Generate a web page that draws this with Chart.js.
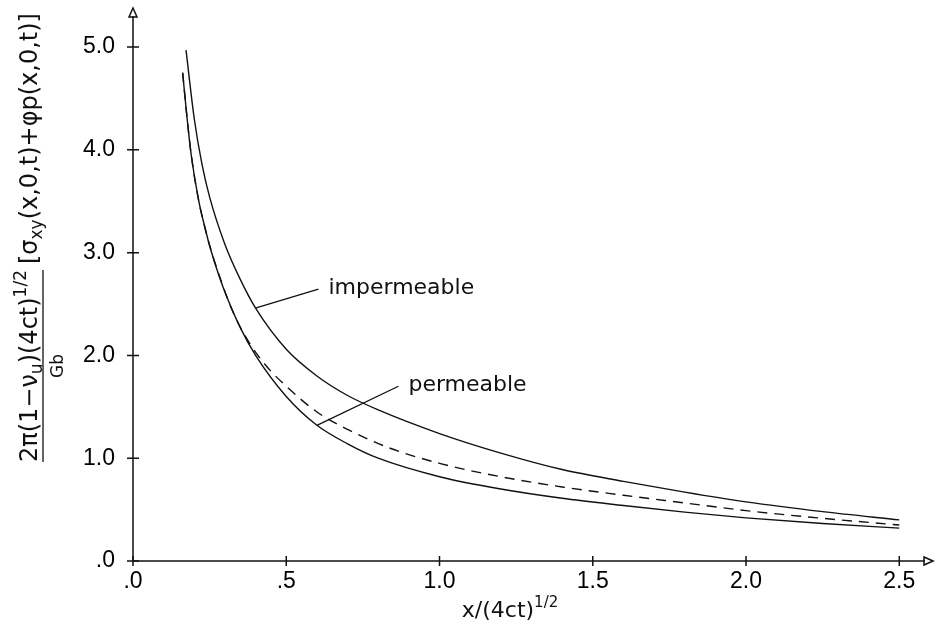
<!DOCTYPE html>
<html>
<head>
<meta charset="utf-8">
<script src="https://cdn.jsdelivr.net/npm/chart.js@4.4.1/dist/chart.umd.min.js"></script>
<style>
  html, body { margin: 0; padding: 0; background: #fff; }
  #wrap { width: 936px; height: 633px; }
</style>
</head>
<body>
<div id="wrap"><canvas id="chart" width="936" height="633"></canvas></div>
<script>
// values
const xImpermeable = [0.173, 0.2, 0.225, 0.25, 0.3, 0.35, 0.4, 0.5, 0.6, 0.7, 0.8, 1.0, 1.2, 1.4, 1.6, 1.8, 2.0, 2.25, 2.5];
const yImpermeable = [4.97, 4.30, 3.86, 3.54, 3.08, 2.74, 2.46, 2.06, 1.80, 1.61, 1.47, 1.24, 1.05, 0.89, 0.775, 0.67, 0.575, 0.48, 0.40];

const xPermeable = [0.162, 0.175, 0.19, 0.214, 0.235, 0.252, 0.28, 0.306, 0.35, 0.4, 0.5, 0.6, 0.7, 0.8, 1.0, 1.2, 1.4, 1.6, 1.8, 2.0, 2.25, 2.5];
const yPermeable = [4.75, 4.35, 3.95, 3.51, 3.24, 3.045, 2.78, 2.57, 2.27, 2.00, 1.60, 1.32, 1.14, 1.00, 0.82, 0.70, 0.61, 0.54, 0.475, 0.42, 0.365, 0.32];

const xDashed = [0.162, 0.175, 0.19, 0.214, 0.235, 0.252, 0.28, 0.328, 0.38, 0.437, 0.5, 0.6, 0.7, 0.839, 1.0, 1.2, 1.4, 1.6, 1.8, 2.0, 2.25, 2.5];
const yDashed = [4.75, 4.35, 3.95, 3.51, 3.24, 3.05, 2.79, 2.41, 2.12, 1.89, 1.70, 1.45, 1.28, 1.097, 0.95, 0.82, 0.72, 0.64, 0.565, 0.49, 0.415, 0.35];

const xTicks = [0, 0.5, 1.0, 1.5, 2.0, 2.5];
const yTicks = [0, 1, 2, 3, 4, 5];

// curve labels: text, point on curve, end of leader line
const labelNames = ["impermeable", "permeable"];
const labelCurveX = [0.399, 0.6];
const labelCurveY = [2.46, 1.32];
const labelLeaderX = [0.605, 0.866];
const labelLeaderY = [2.645, 1.70];

const pts = (xs, ys) => xs.map((x, i) => ({ x: x, y: ys[i] }));
const fmt = (v) => {
  const s = Number(v).toFixed(1);
  return s.startsWith("0") ? s.slice(1) : s;
};

const INK = "#111";

// draws a list of text runs along the baseline, returns total width
const drawRuns = (ctx, runs, x, y) => {
  let cx = x;
  runs.forEach((r) => {
    ctx.font = r.size + "px 'DejaVu Sans'";
    ctx.fillText(r.t, cx, y + (r.dy || 0));
    cx += ctx.measureText(r.t).width;
  });
  return cx - x;
};
const runsWidth = (ctx, runs) => {
  let w = 0;
  runs.forEach((r) => {
    ctx.font = r.size + "px 'DejaVu Sans'";
    w += ctx.measureText(r.t).width;
  });
  return w;
};

const decorations = {
  id: "decorations",
  afterDraw(chart) {
    const ctx = chart.ctx;
    const xs = chart.scales.x, ys = chart.scales.y;
    const x0 = xs.getPixelForValue(0), y0 = ys.getPixelForValue(0);
    const area = chart.chartArea;
    ctx.save();
    ctx.strokeStyle = INK;
    ctx.fillStyle = INK;
    ctx.lineWidth = 1.5;

    // axes with open arrow heads
    ctx.beginPath();
    ctx.moveTo(x0, y0);
    ctx.lineTo(x0, area.top + 8);
    ctx.moveTo(x0, y0);
    ctx.lineTo(area.right - 8, y0);
    ctx.stroke();
    ctx.beginPath();
    ctx.moveTo(x0, area.top);
    ctx.lineTo(x0 - 4, area.top + 9);
    ctx.lineTo(x0 + 4, area.top + 9);
    ctx.closePath();
    ctx.moveTo(area.right, y0);
    ctx.lineTo(area.right - 9, y0 - 4);
    ctx.lineTo(area.right - 9, y0 + 4);
    ctx.closePath();
    ctx.stroke();

    // tick crosses
    ctx.beginPath();
    yTicks.forEach((v) => {
      const p = ys.getPixelForValue(v);
      ctx.moveTo(x0 - 6, p);
      ctx.lineTo(x0 + 6, p);
    });
    xTicks.forEach((v) => {
      const p = xs.getPixelForValue(v);
      ctx.moveTo(p, y0 - 5);
      ctx.lineTo(p, y0 + 5);
    });
    ctx.stroke();

    // curve labels with leader lines
    ctx.lineWidth = 1.3;
    ctx.font = "22px 'DejaVu Sans'";
    ctx.textBaseline = "middle";
    ctx.textAlign = "left";
    labelNames.forEach((name, i) => {
      const ax = xs.getPixelForValue(labelCurveX[i]), ay = ys.getPixelForValue(labelCurveY[i]);
      const bx = xs.getPixelForValue(labelLeaderX[i]), by = ys.getPixelForValue(labelLeaderY[i]);
      ctx.beginPath();
      ctx.moveTo(ax, ay);
      ctx.lineTo(bx, by);
      ctx.stroke();
      ctx.fillText(name, bx + 10, by - 1);
    });

    // x axis title
    ctx.textBaseline = "alphabetic";
    const xRuns = [{ t: "x/(4ct)", size: 22 }, { t: "1/2", size: 15, dy: -10 }];
    const xw = runsWidth(ctx, xRuns);
    drawRuns(ctx, xRuns, 510 - xw / 2, 617);

    // y axis title, rotated
    ctx.save();
    ctx.rotate(-Math.PI / 2);
    const numRuns = [
      { t: "2\u03c0(1\u2212\u03bd", size: 24 },
      { t: "u", size: 17, dy: 5 },
      { t: ")(4ct)", size: 24 },
      { t: "1/2", size: 17, dy: -11 },
    ];
    const brRuns = [
      { t: "[\u03c3", size: 24 },
      { t: "xy", size: 17, dy: 5 },
      { t: "(x,0,t)+\u03c6p(x,0,t)]", size: 24 },
    ];
    const numStart = 462;
    const nw = drawRuns(ctx, numRuns, -numStart, 37);
    ctx.beginPath();
    ctx.lineWidth = 1.3;
    ctx.moveTo(-numStart, 43);
    ctx.lineTo(-numStart + nw, 43);
    ctx.stroke();
    const gbRuns = [{ t: "Gb", size: 17 }];
    const gw = runsWidth(ctx, gbRuns);
    drawRuns(ctx, gbRuns, -numStart + nw / 2 - gw / 2, 63);
    drawRuns(ctx, brRuns, -numStart + nw + 6, 37);
    ctx.restore();

    ctx.restore();
  },
};

const lineStyle = {
  showLine: true,
  fill: false,
  borderColor: INK,
  borderWidth: 1.4,
  pointRadius: 0,
  cubicInterpolationMode: "monotone",
};

const config = {
  type: "scatter",
  data: {
    datasets: [
      Object.assign({ label: "impermeable", data: pts(xImpermeable, yImpermeable) }, lineStyle),
      Object.assign({ label: "permeable", data: pts(xPermeable, yPermeable) }, lineStyle),
      Object.assign({ label: "dashed", data: pts(xDashed, yDashed), borderDash: [10, 7] }, lineStyle),
    ],
  },
  options: {
    responsive: false,
    animation: false,
    events: [],
    layout: { padding: { top: 8, right: 3, left: 0, bottom: 0 } },
    plugins: { legend: { display: false }, tooltip: { enabled: false } },
    scales: {
      x: {
        type: "linear",
        min: 0,
        max: 2.61,
        grid: { display: false, drawTicks: false },
        border: { display: false },
        ticks: {
          padding: 7,
          color: "#000",
          maxRotation: 0,
          autoSkip: false,
          font: { family: "'Liberation Sans'", size: 23 },
          callback: (v) => fmt(v),
        },
        afterBuildTicks: (s) => { s.ticks = xTicks.map((v) => ({ value: v })); },
        afterFit: (s) => { s.height = 72; s.paddingLeft = 0; s.paddingRight = 0; },
      },
      y: {
        type: "linear",
        min: 0,
        max: 5.38,
        grid: { display: false, drawTicks: false },
        border: { display: false },
        ticks: {
          padding: 18,
          color: "#000",
          autoSkip: false,
          font: { family: "'Liberation Sans'", size: 23 },
          callback: (v) => fmt(v),
        },
        afterBuildTicks: (s) => { s.ticks = yTicks.map((v) => ({ value: v })); },
        afterFit: (s) => { s.width = 133; s.paddingTop = 0; s.paddingBottom = 0; },
      },
    },
  },
  plugins: [decorations],
};

const chart = new Chart(document.getElementById("chart").getContext("2d"), config);
</script>
</body>
</html>
